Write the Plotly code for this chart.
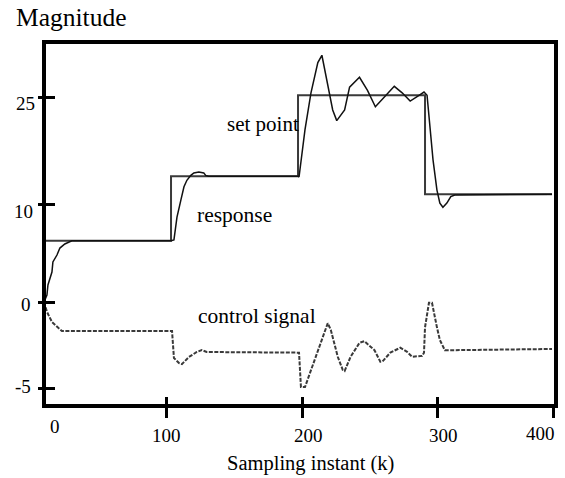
import plotly.graph_objects as go

# ---------------- data ----------------
setpoint_k = [0, 100, 200, 300, 400]
setpoint_v = [7.5, 15.4, 25.3, 13.2, 13.2]

response_k = [0, 2.3, 3.1, 6.25, 7.0, 10.2, 12.5, 16.4, 21.9, 100, 102.3, 104.7, 107.8, 110.2,
              112.5, 115.6, 118.0, 121.9, 125.8, 127.3, 129.7, 200, 200.8, 205.5, 210.2, 215.6,
              218.8, 223.4, 227.3, 230.5, 236.7, 240.6, 248.4, 254.7, 260.9, 268.0, 275.8, 282.0,
              288.3, 295.3, 299.2, 301.6, 303.9, 306.3, 309.4, 311.7, 314.1, 317.2, 320.3, 323.4,
              400]
response_v = [0, 0.86, 2.08, 3.67, 4.9, 5.75, 6.6, 7.1, 7.5, 7.5, 7.6, 10.4, 12.5, 14.1,
              14.9, 15.5, 15.8, 15.9, 15.8, 15.5, 15.4, 15.4, 15.3, 21.1, 25.6, 29.3,
              30.2, 26.8, 23.5, 22.2, 23.5, 26.3, 27.5, 25.9, 23.9, 25.1, 26.4, 25.6,
              24.6, 25.3, 25.7, 25.3, 21.7, 17.4, 13.7, 12.1, 11.6, 12.1, 12.9, 13.1,
              13.2]

control_k = [0, 2.3, 6.25, 10.2, 14.1, 100.8, 101.6, 102.3, 106.3, 108.6, 114.1, 120.3, 124.2,
             128.1, 200.8, 201.6, 202.3, 205.5, 210.2, 215.6, 221.1, 223.4, 225.8, 231.3, 235.2,
             236.7, 241.4, 248.4, 252.3, 260.2, 264.8, 266.4, 272.7, 280.5, 285.9, 289.8, 297.7,
             299.2, 300.0, 301.6, 303.1, 305.5, 307.0, 309.4, 311.7, 315.6, 321.1, 400]
control_v = [0, -1.2, -2.45, -3.06, -3.55, -3.55, -5.26, -6.85, -7.47, -7.6, -6.73, -6.12, -5.88,
             -6.12, -6.2, -8.3, -10.4, -10.4, -8.3, -5.9, -3.7, -2.6, -3.4, -6.7, -8.3,
             -8.45, -6.7, -5.0, -4.8, -5.9, -7.3, -7.3, -6.2, -5.6, -6.1, -6.7, -6.6,
             -6.2, -3.1, -1.2, -0.1, -0.1, -1.35, -3.1, -4.65, -5.9, -5.9, -5.75]

x_tick_labels = ["0", "100", "200", "300", "400"]
y_tick_labels = ["25", "10", "0", "-5"]

# ---------------- pixel helpers (layout only) ----------------
PL, PR, PT, PB = 46, 558, 44, 404   # inner edges of the frame, in page pixels


def kx(px):
    return (px - 44) / 1.28


def vy(py):
    return (302 - py) / 8.17


def paper_x(px):
    return (px - PL) / (PR - PL)


def paper_y(py):
    return (PB - py) / (PB - PT)


FONT = "Liberation Serif"

fig = go.Figure()
fig.add_trace(go.Scatter(x=setpoint_k, y=setpoint_v, mode="lines", line_shape="hv",
                         line=dict(color="#3a3a3a", width=2), hoverinfo="skip"))
fig.add_trace(go.Scatter(x=response_k, y=response_v, mode="lines",
                         line=dict(color="#111111", width=1.5), hoverinfo="skip"))
fig.add_trace(go.Scatter(x=control_k, y=control_v, mode="lines",
                         line=dict(color="#3a3a3a", width=2, dash="4px,1.5px"), hoverinfo="skip"))
# empty trace so the overlay axes (inner halves of the crossing ticks) are drawn
fig.add_trace(go.Scatter(x=[], y=[], xaxis="x2", yaxis="y2", hoverinfo="skip"))

x_range = [kx(PL), kx(PR)]
y_range = [vy(PB), vy(PT)]
x_tickvals = [kx(167), kx(305), kx(441), kx(557.7)]
y_tickvals = [vy(97.7), vy(204), vy(302), vy(388)]

common = dict(showgrid=False, zeroline=False, showticklabels=False, tickcolor="black",
              tickwidth=3)
fig.update_layout(
    width=565, height=478, autosize=False, showlegend=False,
    paper_bgcolor="white", plot_bgcolor="white",
    margin=dict(l=PL, r=565 - PR, t=PT, b=478 - PB),
    font=dict(family=FONT, color="black", size=19),
    xaxis=dict(range=x_range, showline=True, linewidth=4, linecolor="black", mirror=True,
               ticks="outside", ticklen=10, tickvals=x_tickvals, **common),
    yaxis=dict(range=y_range, showline=True, linewidth=4, linecolor="black", mirror=True,
               ticks="outside", ticklen=4, tickvals=y_tickvals, **common),
    xaxis2=dict(range=x_range, overlaying="x", anchor="y2", side="bottom", showline=False,
                ticks="inside", ticklen=7, tickvals=x_tickvals, **common),
    yaxis2=dict(range=y_range, overlaying="y", anchor="x2", side="left", showline=False,
                ticks="inside", ticklen=9, tickvals=y_tickvals, **common),
)

ann = []
# y tick labels
for lab, (rx, my) in zip(y_tick_labels, [(37, 103.5), (35, 211.5), (33, 304.5), (33, 386.5)]):
    ann.append(dict(x=paper_x(rx), y=paper_y(my), text=lab, xanchor="right", yanchor="middle"))
# x tick labels
for lab, (cx, my) in zip(x_tick_labels, [(55, 426.5), (167, 435.5), (311, 435.5),
                                         (447, 435.5), (544, 433.5)]):
    ann.append(dict(x=paper_x(cx), y=paper_y(my), text=lab, xanchor="center", yanchor="middle"))
# axis titles
ann.append(dict(x=paper_x(313), y=paper_y(463), text="Sampling instant (k)", xanchor="center",
                yanchor="middle", font=dict(size=20.5)))
ann.append(dict(x=paper_x(14), y=paper_y(17), text="Magnitude", xanchor="left",
                yanchor="middle", font=dict(size=25.5)))
# series labels
ann.append(dict(x=paper_x(226), y=paper_y(124), text="set point", xanchor="left",
                yanchor="middle", font=dict(size=21)))
ann.append(dict(x=paper_x(196), y=paper_y(215), text="response", xanchor="left",
                yanchor="middle", font=dict(size=21.5)))
ann.append(dict(x=paper_x(197), y=paper_y(316), text="control signal", xanchor="left",
                yanchor="middle", font=dict(size=21.5)))

for a in ann:
    a.update(xref="paper", yref="paper", showarrow=False)
    a.setdefault("font", dict(size=19))
    a["font"] = dict(family=FONT, color="black", **a["font"])
fig.update_layout(annotations=ann)

fig.write_html(
    "out.html",
    config={"displayModeBar": False, "responsive": False},
    post_script="document.body.style.margin='0';document.body.style.overflow='hidden';",
)
